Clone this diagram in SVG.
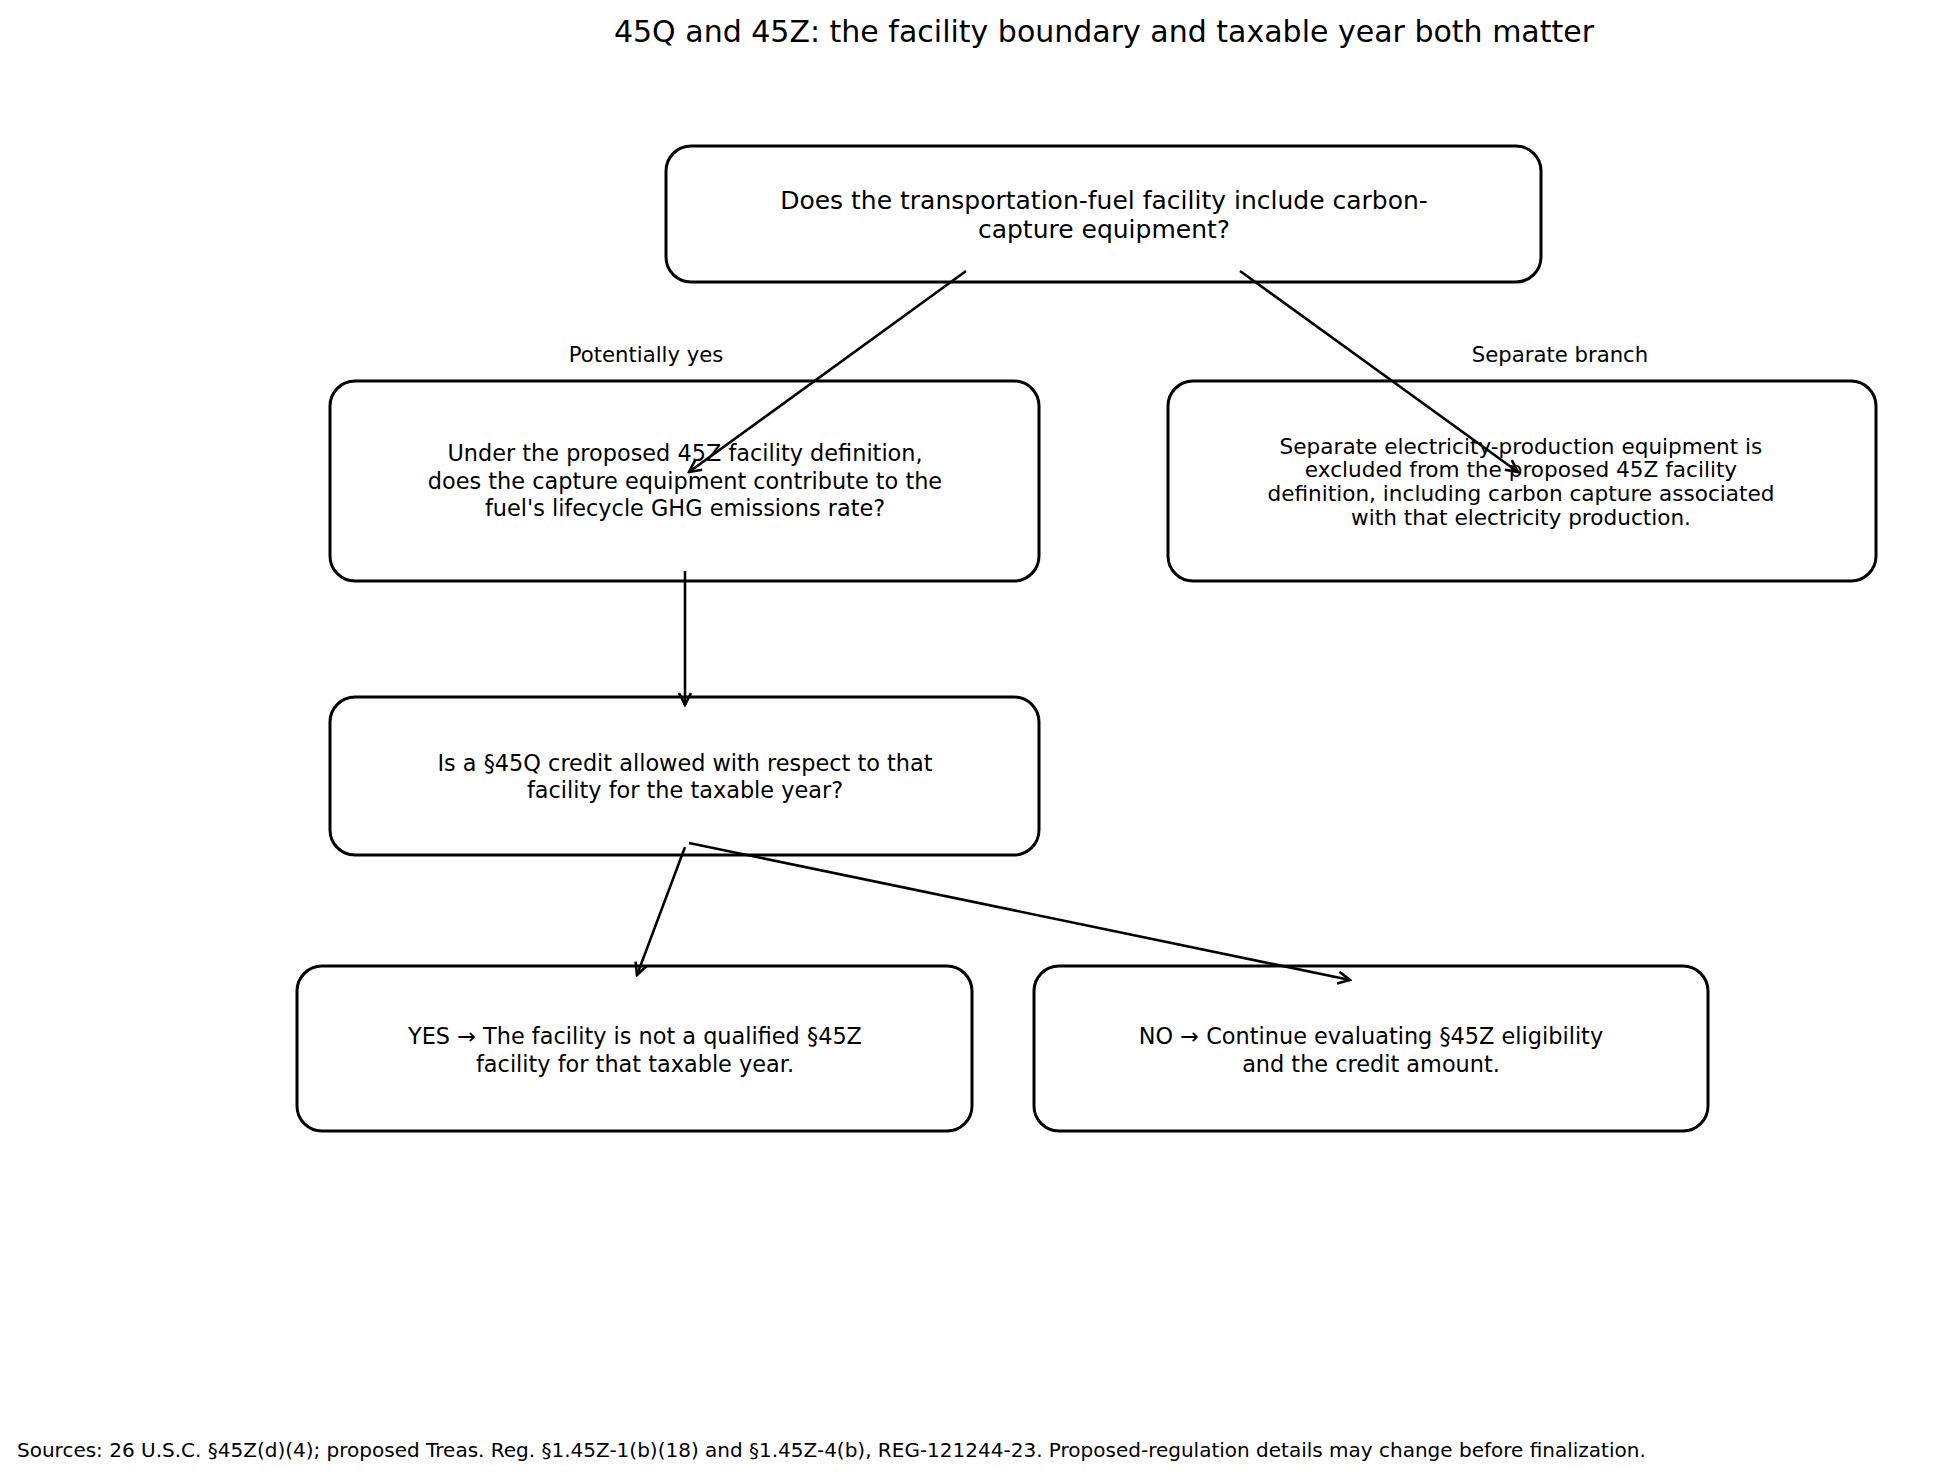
<svg xmlns="http://www.w3.org/2000/svg" width="1958" height="1477" viewBox="0 0 1958 1477">
<style>
text{font-family:"DejaVu Sans","Liberation Sans",sans-serif;fill:#000;text-anchor:middle}
.box{fill:#fff;stroke:#000;stroke-width:3}
.t1{font-size:25px}
.t2{font-size:22.4px}
.t3{font-size:21.6px}
.lab{font-size:21.2px}
.con{stroke:#000;stroke-width:2.6;fill:none;marker-end:url(#ah)}
</style>
<defs>
<marker id="ah" markerUnits="userSpaceOnUse" markerWidth="16" markerHeight="16" viewBox="0 0 16 16" refX="14" refY="8" orient="auto">
<path d="M2,2 L14,8 L2,14" fill="none" stroke="#000" stroke-width="2.6"/>
</marker>
</defs>
<rect width="1958" height="1477" fill="#fff"/>
<text x="1104" y="42" style="font-size:30px">45Q and 45Z: the facility boundary and taxable year both matter</text>

<g id="n1">
<rect class="box" x="666" y="146" width="875" height="136" rx="25"/>
<text class="t1" x="1104" y="209">Does the transportation-fuel facility include carbon-</text>
<text class="t1" x="1104" y="238">capture equipment?</text>
</g>
<g id="n2">
<rect class="box" x="330" y="381" width="709" height="200" rx="25"/>
<text class="t2" x="685" y="461">Under the proposed 45Z facility definition,</text>
<text class="t2" x="685" y="489">does the capture equipment contribute to the</text>
<text class="t2" x="685" y="516">fuel's lifecycle GHG emissions rate?</text>
</g>
<g id="n3">
<rect class="box" x="1168" y="381" width="708" height="200" rx="25"/>
<text class="t3" x="1521" y="454">Separate electricity-production equipment is</text>
<text class="t3" x="1521" y="477">excluded from the proposed 45Z facility</text>
<text class="t3" x="1521" y="501">definition, including carbon capture associated</text>
<text class="t3" x="1521" y="525">with that electricity production.</text>
</g>
<g id="n4">
<rect class="box" x="330" y="697" width="709" height="158" rx="25"/>
<text class="t2" x="685" y="771">Is a §45Q credit allowed with respect to that</text>
<text class="t2" x="685" y="798">facility for the taxable year?</text>
</g>
<g id="n5">
<rect class="box" x="297" y="966" width="675" height="165" rx="25"/>
<text class="t2" x="635" y="1044">YES → The facility is not a qualified §45Z</text>
<text class="t2" x="635" y="1072">facility for that taxable year.</text>
</g>
<g id="n6">
<rect class="box" x="1034" y="966" width="674" height="165" rx="25"/>
<text class="t2" x="1371" y="1044">NO → Continue evaluating §45Z eligibility</text>
<text class="t2" x="1371" y="1072">and the credit amount.</text>
</g>

<g id="connectors">
<line class="con" x1="966" y1="271" x2="689" y2="472"/>
<line class="con" x1="1240" y1="271" x2="1518" y2="472"/>
<line class="con" x1="685" y1="571" x2="685" y2="705"/>
<line class="con" x1="685" y1="847" x2="637" y2="975"/>
<line class="con" x1="689" y1="843" x2="1350" y2="980"/>
<text class="lab" x="646" y="362">Potentially yes</text>
<text class="lab" x="1560" y="362">Separate branch</text>
</g>

<text x="17" y="1457" style="font-size:20px;text-anchor:start">Sources: 26 U.S.C. §45Z(d)(4); proposed Treas. Reg. §1.45Z-1(b)(18) and §1.45Z-4(b), REG-121244-23. Proposed-regulation details may change before finalization.</text>
</svg>
